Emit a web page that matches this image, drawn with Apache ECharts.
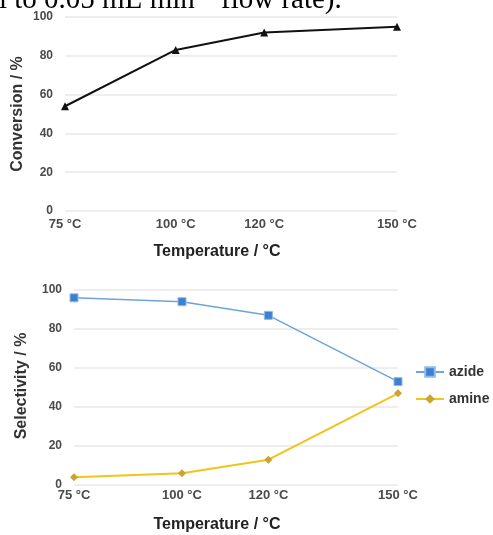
<!DOCTYPE html>
<html><head><meta charset="utf-8">
<script src="https://cdn.jsdelivr.net/npm/echarts@6/dist/echarts.min.js"></script>
<style>html,body{margin:0;padding:0;background:#fff}#c{width:493px;height:535px}</style>
</head><body><div id="c"></div>
<script>
var temps = [75, 100, 120, 150];
var tickLabels = {75: '75 °C', 100: '100 °C', 120: '120 °C', 150: '150 °C'};
var conversion = [54, 83, 92, 95];
var azide = [96, 94, 87, 53];
var amine = [4, 6, 13, 47];

function pairs(v){ return temps.map(function(t,i){ return [t, v[i]]; }); }
var fam = 'Liberation Sans, Arial';
var yLabelStyle = {fontFamily:fam, fontWeight:'bold', fontSize:12, color:'#4a4a4a'};
var xLabelStyle = {fontFamily:fam, fontWeight:'bold', fontSize:13, color:'#4a4a4a'};
var serif = '"Liberation Serif", "Times New Roman", serif';

var chart = echarts.init(document.getElementById('c'));
function xAx(gi, margin){
  return {type:'value', gridIndex:gi, min:75, max:150, interval:5,
    axisLine:{show:false}, axisTick:{show:false}, splitLine:{show:false},
    axisLabel:Object.assign({margin:margin, formatter:function(v){return tickLabels[v]||'';}}, xLabelStyle)};
}
function yAx(gi){
  return {type:'value', gridIndex:gi, min:0, max:100, interval:20,
    axisLine:{show:false}, axisTick:{show:false},
    splitLine:{lineStyle:{color:'#e8e8e8', width:1.5}},
    axisLabel:Object.assign({margin:12}, yLabelStyle)};
}
chart.setOption({
  animation:false,
  grid:[{left:65, top:17, width:332, height:194},{left:74, top:290, width:324, height:195}],
  xAxis:[xAx(0,7), xAx(1,4)],
  yAxis:[yAx(0), yAx(1)],
  legend:{orient:'vertical', left:410, top:360, itemWidth:28, itemHeight:12, itemGap:13,
    textStyle:{fontFamily:fam, fontWeight:'bold', fontSize:14, color:'#333'},
    data:['azide','amine']},
  graphic:[
    {type:'text', x:-1, y:15, style:{text:'l to 0.05 mL min', font:'29px '+serif, fill:'#000', verticalAlign:'bottom'}},
    {type:'text', x:199, y:3, style:{text:'−1', font:'19px '+serif, fill:'#000', verticalAlign:'bottom'}},
    {type:'text', x:221, y:15, style:{text:'flow rate).', font:'29px '+serif, fill:'#000', verticalAlign:'bottom'}},
    {type:'text', x:217, y:252, style:{text:'Temperature / °C', font:'bold 16px '+fam, fill:'#222', align:'center', verticalAlign:'middle'}},
    {type:'text', x:217, y:525, style:{text:'Temperature / °C', font:'bold 16px '+fam, fill:'#222', align:'center', verticalAlign:'middle'}},
    {type:'text', x:18, y:114, rotation:Math.PI/2, style:{text:'Conversion / %', font:'bold 16px '+fam, fill:'#333', align:'center', verticalAlign:'middle'}},
    {type:'text', x:22, y:386, rotation:Math.PI/2, style:{text:'Selectivity / %', font:'bold 16px '+fam, fill:'#333', align:'center', verticalAlign:'middle'}}
  ],
  series:[
    {name:'Conversion', type:'line', xAxisIndex:0, yAxisIndex:0, data:pairs(conversion),
      symbol:'triangle', symbolSize:8, lineStyle:{color:'#111', width:2}, itemStyle:{color:'#111'}},
    {name:'azide', type:'line', xAxisIndex:1, yAxisIndex:1, data:pairs(azide),
      symbol:'rect', symbolSize:8, lineStyle:{color:'#6fa3db', width:1.5}, itemStyle:{color:'#3f7fcf', borderColor:'#8fbbe8', borderWidth:1}},
    {name:'amine', type:'line', xAxisIndex:1, yAxisIndex:1, data:pairs(amine),
      symbol:'diamond', symbolSize:8, lineStyle:{color:'#f2c318', width:2}, itemStyle:{color:'#c9a430'}}
  ]
});
</script></body></html>
